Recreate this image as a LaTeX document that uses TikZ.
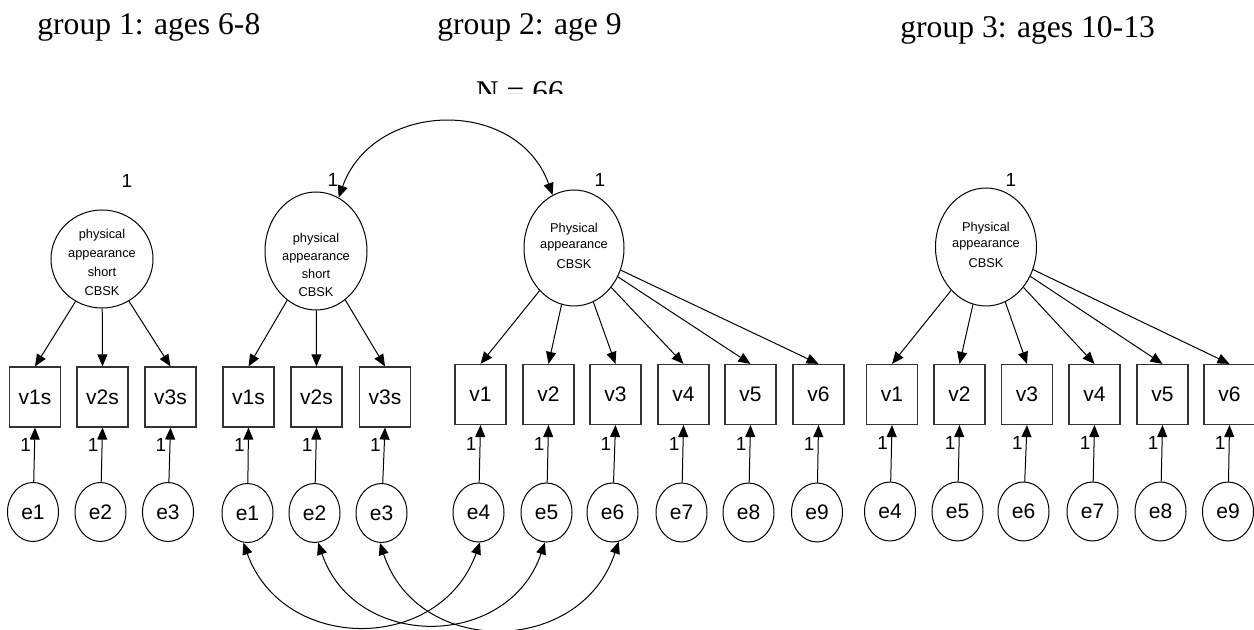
\documentclass[tikz,border=0pt]{standalone}
\usepackage{fontspec}
\setmainfont{Liberation Serif}
\setsansfont{Liberation Sans}
\usetikzlibrary{arrows.meta,shapes.geometric}
\begin{document}
\begin{tikzpicture}[x=0.5pt,y=-0.5pt,
  box/.style={draw=black!80, line width=0.6pt, minimum width=25.5pt, minimum height=30pt, inner sep=0pt, font=\sffamily\fontsize{10.5}{12}\selectfont},
  lat/.style={draw, ellipse, line width=0.5pt, inner sep=0pt},
  err/.style={draw, ellipse, line width=0.5pt, inner sep=0pt, minimum width=25.5pt, minimum height=29.5pt, font=\sffamily\fontsize{10.5}{12}\selectfont},
  arr/.style={-{Triangle[length=6pt,width=5pt]}, line width=0.5pt},
  cov/.style={{Triangle[length=6pt,width=5pt]}-{Triangle[length=6pt,width=5pt]}, line width=0.5pt},
  one/.style={font=\sffamily\fontsize{9.5}{11}\selectfont, inner sep=0pt},
  elab/.style={one, pos=0.68, anchor=east, xshift=-1.6pt},
  titletext/.style={font=\fontsize{15.8}{18}\selectfont, anchor=base west, inner sep=0pt},
  lattext/.style={font=\sffamily\fontsize{6.4}{9.5}\selectfont, align=center, inner sep=0pt}
]
\useasboundingbox (0,0) rectangle (1254,630);
\clip (0,0) rectangle (1254,630);

% titles
\node[titletext] (t1) at (37,35) {group 1: ages 6-8};
\node[titletext] (t2) at (437,35) {group 2: age 9};
\node[titletext] (t3) at (900,38) {group 3: ages 10-13};
\begin{scope}
  \clip (400,60) rectangle (650,94);
  \node[titletext, anchor=base] (n66) at (520,103) {N = 66};
\end{scope}

% ---------- group 1 ----------
\node[lat, minimum width=51pt, minimum height=49pt] (g1f) at (102,259) {};
\node[lattext] (g1ft) at (102,262) {physical\\appearance\\short\\CBSK};
\node[one] (g1one) at (127,181) {1};
\foreach \i/\x/\ex/\lab in {1/35/33/v1s,2/102.5/100.5/v2s,3/170.5/168/v3s}{
  \node[box] (g1v\i) at (\x,397) {\lab};
  \node[err] (g1e\i) at (\ex,512) {e\i};
  \draw[arr] (g1f) -- (g1v\i.north);
  \draw[arr] (g1e\i) -- node[elab]{1} (g1v\i.south);
}

% ---------- group 2 short ----------
\node[lat, minimum width=51pt, minimum height=59pt] (g2s) at (316,251) {};
\node[lattext, font=\sffamily\fontsize{6.4}{9}\selectfont] (g2st) at (316,265) {physical\\appearance\\short\\CBSK};
\node[one] (g2sone) at (333,180) {1};
\foreach \i/\x/\ex/\lab in {1/248.5/247.5/v1s,2/316.5/314.5/v2s,3/385/381.5/v3s}{
  \node[box] (g2sv\i) at (\x,397) {\lab};
  \node[err] (g2e\i) at (\ex,513) {e\i};
  \draw[arr] (g2s) -- (g2sv\i.north);
  \draw[arr] (g2e\i) -- node[elab]{1} (g2sv\i.south);
}

% ---------- group 2 long ----------
\node[lat, minimum width=50pt, minimum height=58pt] (g2l) at (574,248) {};
\node[lattext, font=\sffamily\fontsize{6.4}{8}\selectfont] (g2lt) at (574,246) {Physical\\appearance\\[2pt]CBSK};
\node[one] (g2lone) at (600,180) {1};
\foreach \i/\x/\ex/\en in {1/480.5/478.5/4,2/548.5/546.5/5,3/615.5/612.5/6,4/683.5/681.5/7,5/750.5/748.5/8,6/818.5/817/9}{
  \node[box] (g2lv\i) at (\x,394.5) {v\i};
  \node[err] (g2e\en) at (\ex,512.5) {e\en};
  \draw[arr] (g2l) -- (g2lv\i.north);
  \draw[arr] (g2e\en) -- node[elab]{1} (g2lv\i.south);
}

% ---------- group 3 ----------
\node[lat, minimum width=50.5pt, minimum height=59pt] (g3l) at (986,247) {};
\node[lattext, font=\sffamily\fontsize{6.4}{8}\selectfont] (g3lt) at (986,245) {Physical\\appearance\\[2pt]CBSK};
\node[one] (g3one) at (1011,180) {1};
\foreach \i/\x/\ex/\en in {1/892/890/4,2/959.5/957.5/5,3/1027/1023.5/6,4/1094.5/1092.5/7,5/1162.5/1160.5/8,6/1229.5/1228/9}{
  \node[box] (g3v\i) at (\x,394.5) {v\i};
  \node[err] (g3e\en) at (\ex,511.5) {e\en};
  \draw[arr] (g3l) -- (g3v\i.north);
  \draw[arr] (g3e\en) -- node[elab]{1} (g3v\i.south);
}

% ---------- covariances ----------
\draw[cov] (g2s.67) .. controls +(35,-98) and +(-35,-98) .. (g2l.112);
\draw[cov] (g2e1.-98) .. controls +(40,111) and +(-40,111) .. (g2e4.-87);
\draw[cov] (g2e2.-83) .. controls +(37,108) and +(-37,108) .. (g2e5.-93);
\draw[cov] (g2e3.-93) .. controls +(38,115) and +(-38,115) .. (g2e6.-78);
\end{tikzpicture}
\end{document}
